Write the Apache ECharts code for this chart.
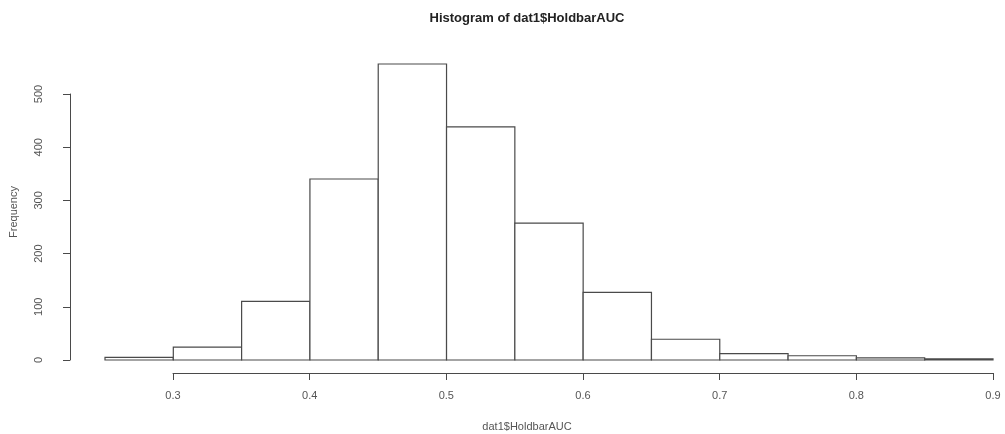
<!DOCTYPE html>
<html>
<head>
<meta charset="utf-8">
<script src="https://cdn.jsdelivr.net/npm/echarts@6/dist/echarts.min.js"></script>
<style>
  html, body { margin: 0; padding: 0; background: #ffffff; }
  #chart { width: 1005px; height: 434px; }
</style>
</head>
<body>
<div id="chart"></div>
<script>
// Histogram bin edges and counts
const breaks = [0.25, 0.3, 0.35, 0.4, 0.45, 0.5, 0.55, 0.6, 0.65, 0.7, 0.75, 0.8, 0.85, 0.9];
const counts = [5, 24, 110, 340, 556, 438, 257, 127, 39, 12, 8, 4, 2];

// Tick values of the two axes
const xTicks = [0.3, 0.4, 0.5, 0.6, 0.7, 0.8, 0.9];
const yTicks = [0, 100, 200, 300, 400, 500];

const titleText = 'Histogram of dat1$HoldbarAUC';
const xName = 'dat1$HoldbarAUC';
const yName = 'Frequency';

const bins = counts.map((c, i) => [breaks[i], breaks[i + 1], c]);

const FONT = '"Liberation Sans", Arial, Helvetica, sans-serif';
const INK = '#4a4a4a';
const TXT = '#555555';

const chart = echarts.init(document.getElementById('chart'), null, { renderer: 'canvas' });

chart.setOption({
  backgroundColor: '#ffffff',
  animation: false,
  grid: [
    // plotting area for the bars
    { left: 105, right: 12, top: 64, bottom: 74 },
    // detached x axis below the bars
    { left: 173, right: 12, top: 372, bottom: 61 },
    // detached y axis left of the bars
    { left: 70, width: 1, top: 94, bottom: 74 }
  ],
  xAxis: [
    { gridIndex: 0, type: 'value', min: breaks[0], max: breaks[breaks.length - 1], show: false },
    {
      gridIndex: 1, type: 'value',
      min: xTicks[0], max: xTicks[xTicks.length - 1], interval: 0.1,
      axisLine: { show: true, lineStyle: { color: INK, width: 1 } },
      axisTick: { show: true, inside: false, length: 7, lineStyle: { color: INK, width: 1 } },
      axisLabel: {
        margin: 17, color: TXT, fontSize: 11, fontFamily: FONT,
        formatter: v => Number(v).toFixed(1)
      },
      splitLine: { show: false }
    },
    { gridIndex: 2, type: 'value', min: 0, max: 1, show: false }
  ],
  yAxis: [
    { gridIndex: 0, type: 'value', min: 0, max: Math.max(...counts), show: false },
    { gridIndex: 1, type: 'value', min: 0, max: 1, show: false },
    {
      gridIndex: 2, type: 'value',
      min: yTicks[0], max: yTicks[yTicks.length - 1], interval: 100,
      axisLine: { show: true, lineStyle: { color: INK, width: 1 } },
      axisTick: { show: true, inside: false, length: 7, lineStyle: { color: INK, width: 1 } },
      axisLabel: { rotate: 90, margin: 26, color: TXT, fontSize: 11, fontFamily: FONT },
      splitLine: { show: false }
    }
  ],
  graphic: [
    {
      type: 'text', x: 527, y: 18,
      style: { text: titleText, font: 'bold 13px ' + FONT, fill: '#222222', textAlign: 'center', textVerticalAlign: 'middle' }
    },
    {
      type: 'text', x: 527, y: 427,
      style: { text: xName, font: '11px ' + FONT, fill: TXT, textAlign: 'center', textVerticalAlign: 'middle' }
    },
    {
      type: 'text', x: 14, y: 212, rotation: Math.PI / 2,
      style: { text: yName, font: '11px ' + FONT, fill: TXT, textAlign: 'center', textVerticalAlign: 'middle' }
    }
  ],
  series: [
    {
      type: 'custom',
      xAxisIndex: 0, yAxisIndex: 0,
      data: bins,
      clip: false,
      renderItem: function (params, api) {
        const p0 = api.coord([api.value(0), 0]);
        const p1 = api.coord([api.value(1), api.value(2)]);
        return {
          type: 'rect',
          shape: { x: p0[0], y: p1[1], width: p1[0] - p0[0], height: p0[1] - p1[1] },
          style: { fill: '#ffffff', stroke: INK, lineWidth: 1.2 }
        };
      }
    }
  ]
});
</script>
</body>
</html>
